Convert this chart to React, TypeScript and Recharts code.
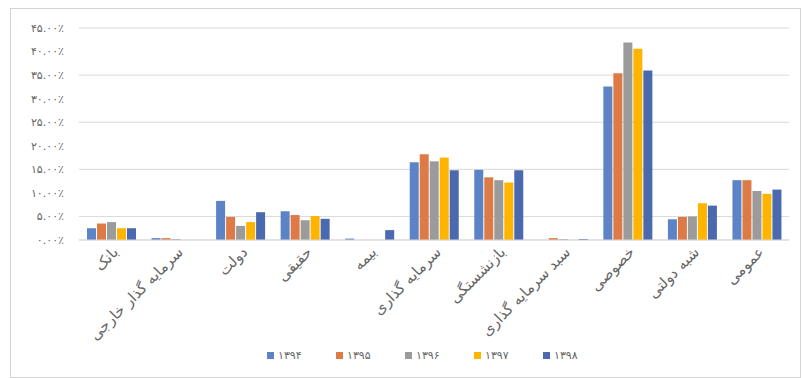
import { Bar, BarChart, CartesianGrid, Legend, XAxis, YAxis } from "recharts";

const categories = [
  "بانک",
  "سرمایه گذار خارجی",
  "دولت",
  "حقیقی",
  "بیمه",
  "سرمایه گذاری",
  "بازنشستگی",
  "سبد سرمایه گذاری",
  "خصوصی",
  "شبه دولتی",
  "عمومی",
];

const s1394 = [2.5, 0.4, 8.3, 6.1, 0.3, 16.5, 14.9, 0, 32.6, 4.4, 12.7];
const s1395 = [3.5, 0.4, 4.9, 5.3, 0, 18.2, 13.3, 0.4, 35.4, 4.9, 12.7];
const s1396 = [3.8, 0.2, 3.0, 4.2, 0, 16.7, 12.7, 0.2, 41.9, 5.0, 10.4];
const s1397 = [2.5, 0, 3.8, 5.1, 0, 17.5, 12.2, 0, 40.6, 7.8, 9.8];
const s1398 = [2.5, 0, 5.9, 4.5, 2.1, 14.8, 14.8, 0.2, 36.0, 7.3, 10.7];

const seriesNames = ["۱۳۹۴", "۱۳۹۵", "۱۳۹۶", "۱۳۹۷", "۱۳۹۸"];
const seriesColors = ["#5B83C6", "#DE7A45", "#9B9B9B", "#FFB400", "#4A69AE"];
const yTicks = [0, 5, 10, 15, 20, 25, 30, 35, 40, 45];

const allSeries = [s1394, s1395, s1396, s1397, s1398];
const data = categories.map((name, i) => {
  const row: Record<string, string | number> = { name };
  seriesNames.forEach((s, j) => {
    row[s] = allSeries[j][i];
  });
  return row;
});

const faDigits = "۰۱۲۳۴۵۶۷۸۹";
const toFa = (s: string) => s.replace(/[0-9]/g, (d) => faDigits[Number(d)]);
const fmtPct = (v: number) => toFa(v.toFixed(2)) + "٪";

const font = "'DejaVu Sans', sans-serif";
const textColor = "#666666";

function XTick(props: any) {
  const { x, y, payload } = props;
  return (
    <g transform={`translate(${x + 8},${y + 5})`}>
      <text
        textAnchor="end"
        transform="rotate(-45)"
        fontSize={15}
        fontFamily={font}
        fill={textColor}
      >
        {payload.value}
      </text>
    </g>
  );
}

function LegendContent(props: any) {
  const items = props.payload || [];
  return (
    <div style={{ display: "flex", height: 14, alignItems: "center" }}>
      {items.map((it: any) => (
        <div
          key={it.value}
          style={{ width: 69, display: "flex", alignItems: "center", fontFamily: font, fontSize: 11, color: textColor }}
        >
          <span style={{ width: 7, height: 7, background: it.color, marginRight: 4, display: "inline-block" }} />
          <span>{it.value}</span>
        </div>
      ))}
    </div>
  );
}

export default function App() {
  return (
    <div style={{ position: "relative", width: 802, height: 378, background: "#fff" }}>
      <style>{`body{margin:0}`}</style>
      <div
        style={{
          position: "absolute",
          left: 10,
          top: 8,
          width: 789,
          height: 368,
          border: "1px solid #d4d4d4",
        }}
      />
      <div style={{ position: "absolute", left: 0, top: 0 }}>
        <BarChart
          width={802}
          height={378}
          data={data}
          margin={{ top: 28, right: 13, left: 0, bottom: 16 }}
          barSize={9}
          barGap={1}
        >
          <CartesianGrid stroke="#d9d9d9" vertical={false} />
          <XAxis
            dataKey="name"
            interval={0}
            height={108}
            tickLine={false}
            axisLine={{ stroke: "#d9d9d9" }}
            tick={<XTick />}
          />
          <YAxis
            width={79}
            domain={[0, 45]}
            ticks={yTicks}
            tickLine={false}
            axisLine={false}
            tickMargin={9}
            tickFormatter={fmtPct}
            tick={{ fill: textColor, fontSize: 11, fontFamily: font }}
          />
          <Legend
            verticalAlign="bottom"
            content={<LegendContent />}
            wrapperStyle={{ left: 267, width: 360, height: 14, bottom: 16 }}
          />
          {seriesNames.map((s, j) => (
            <Bar key={s} dataKey={s} fill={seriesColors[j]} isAnimationActive={false} />
          ))}
        </BarChart>
      </div>
    </div>
  );
}
